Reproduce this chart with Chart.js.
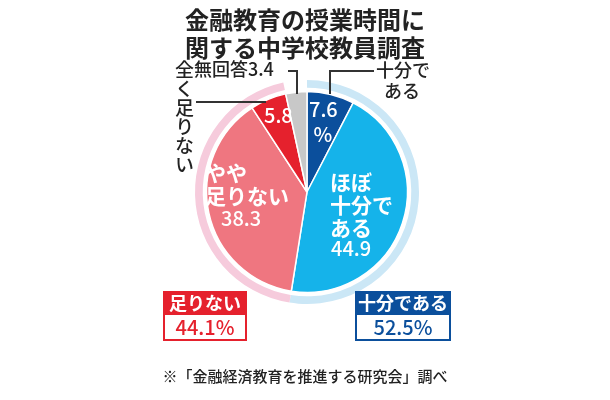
<!DOCTYPE html>
<html><head><meta charset="utf-8">
<script src="https://cdn.jsdelivr.net/npm/chart.js@4/dist/chart.umd.min.js"></script>
<style>
body{margin:0;background:#fff;font-family:"Noto Sans CJK JP",sans-serif;}
#wrap{position:relative;width:610px;height:400px;}
canvas{position:absolute;left:0;top:0;}
.t{position:absolute;white-space:nowrap;line-height:1.1;font-weight:500;}
.ln{position:absolute;background:#333;}
</style></head><body>
<div id="wrap">
<canvas id="c" width="610" height="400"></canvas>
<div class="t" style="left:0;width:610px;top:5px;text-align:center;font-size:24px;font-weight:bold;color:#222;line-height:28px">金融教育の授業時間に<br>関する中学校教員調査</div>
<div class="t" style="left:194px;top:59px;font-size:18px;color:#222">無回答3.4</div>
<div class="ln" style="left:288px;top:70px;width:9px;height:1.5px"></div>
<div class="ln" style="left:296px;top:70px;width:1.5px;height:24px"></div>
<div class="t" style="left:376px;top:59px;font-size:18px;color:#222;line-height:21px">十分で<br>&nbsp;&nbsp;ある</div>
<div class="ln" style="left:329px;top:70px;width:45px;height:1.5px"></div>
<div class="ln" style="left:329px;top:70px;width:1.5px;height:24px"></div>
<div class="t" style="left:174px;top:60px;font-size:19px;color:#222;writing-mode:vertical-rl;line-height:20px">全く足りない</div>
<div class="ln" style="left:196px;top:101px;width:70px;height:1.5px"></div>
<div class="t" style="left:309px;top:96px;font-size:20px;color:#fff;line-height:25px">7.6<br>&nbsp;%</div>
<div class="t" style="left:264px;top:104px;font-size:20px;color:#fff">5.8</div>
<div class="t" style="left:330px;top:170px;font-size:21px;color:#fff;font-weight:bold;line-height:23px">ほぼ<br>十分で<br>ある</div>
<div class="t" style="left:331px;top:237px;font-size:20px;color:#fff">44.9</div>
<div class="t" style="left:205px;top:161px;font-size:21px;color:#fff;font-weight:bold;line-height:23px">やや<br>足りない</div>
<div class="t" style="left:221px;top:207px;font-size:20px;color:#fff">38.3</div>
<div class="t" style="left:163px;top:291px;width:84px;height:22px;background:#e5212d;color:#fff;font-size:18px;font-weight:bold;text-align:center;line-height:22px">足りない</div>
<div class="t" style="left:163px;top:313px;width:80px;height:24px;border:2px solid #e5212d;color:#e5212d;font-size:20px;text-align:center;line-height:24px">44.1%</div>
<div class="t" style="left:355px;top:291px;width:96px;height:22px;background:#0b4f9c;color:#fff;font-size:18px;font-weight:bold;text-align:center;line-height:22px">十分である</div>
<div class="t" style="left:355px;top:313px;width:92px;height:24px;border:2px solid #0b4f9c;color:#0b4f9c;font-size:20px;text-align:center;line-height:24px">52.5%</div>
<div class="t" style="left:0;width:610px;top:368px;text-align:center;font-size:15px;color:#222">※「金融経済教育を推進する研究会」調べ</div>
</div>
<script>
const categories = ["十分である", "ほぼ十分である", "やや足りない", "全く足りない", "無回答"];
const values = [7.6, 44.9, 38.3, 5.8, 3.4];
const groupLabels = ["十分である", "足りない", "無回答"];
const groupValues = [52.5, 44.1, 3.4];

new Chart(document.getElementById("c"), {
  type: "pie",
  data: {
    labels: categories,
    datasets: [
      { data: groupValues, backgroundColor: ["#cbe7f6", "#f6cbdc", "rgba(0,0,0,0)"], borderWidth: 0, weight: 1 },
      { data: groupValues, backgroundColor: "rgba(0,0,0,0)", borderWidth: 0, weight: 0.5 },
      { data: values, backgroundColor: ["#0b4f9c", "#15b3ea", "#ef7680", "#e5212d", "#c8c8c8"], borderColor: "#fff", borderWidth: 1.5, weight: 13 }
    ]
  },
  options: {
    responsive: false, animation: false,
    layout: { padding: { left: 195, right: 191, top: 80, bottom: 96 } },
    plugins: { legend: { display: false }, tooltip: { enabled: false } }
  }
});
</script>
</body></html>
